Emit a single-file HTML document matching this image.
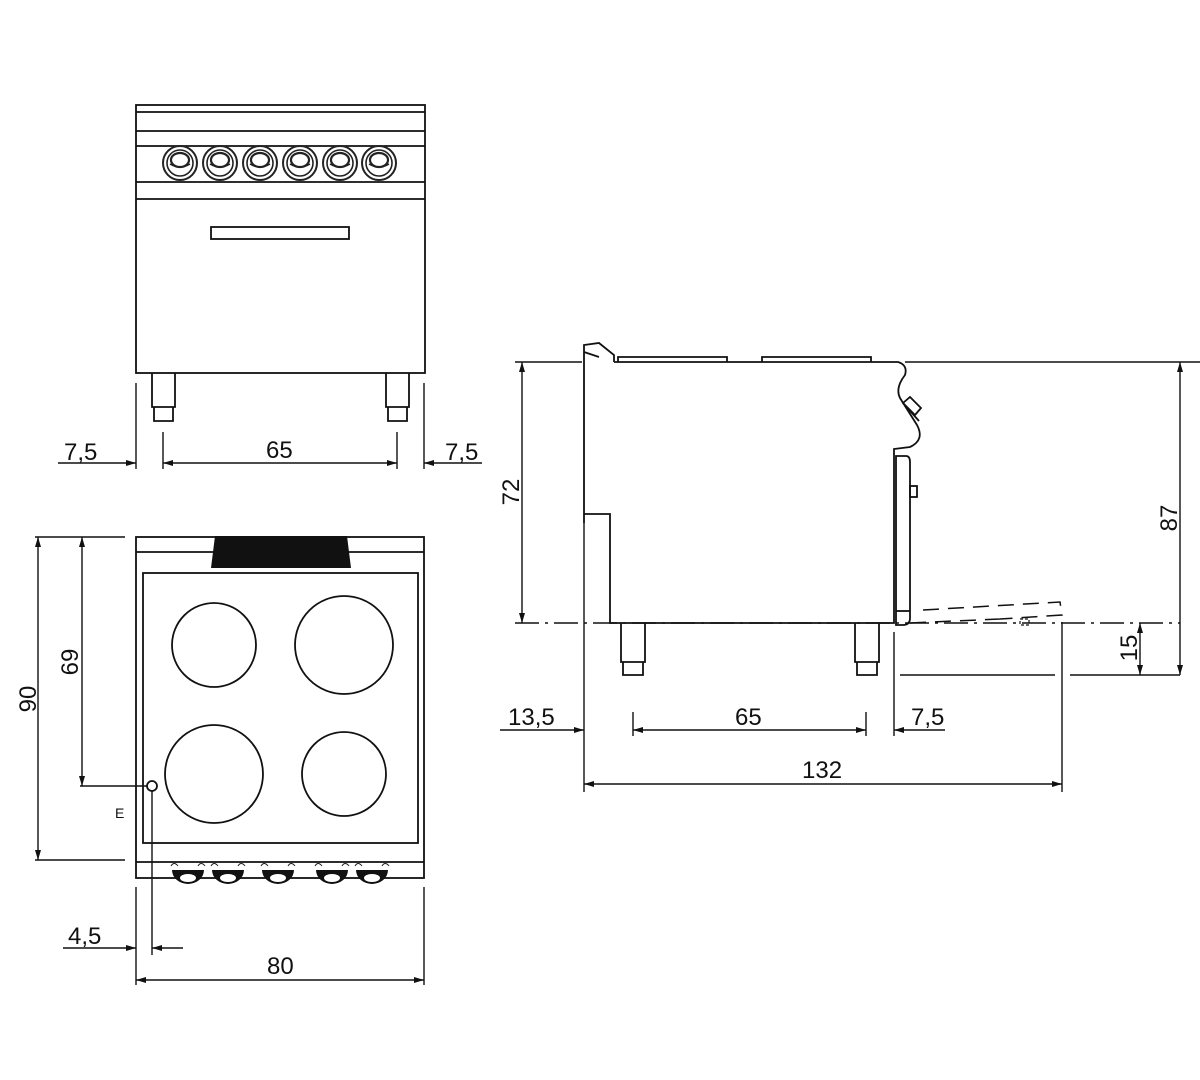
<!DOCTYPE html>
<html><head><meta charset="utf-8"><style>
html,body{margin:0;padding:0;background:#fff;}
svg{display:block}
text{font-family:"Liberation Sans",Arial,sans-serif;font-size:24px;fill:#111;}
</style></head><body>
<svg width="1200" height="1080" viewBox="0 0 1200 1080" xmlns="http://www.w3.org/2000/svg">
<defs>
<marker id="a" viewBox="0 0 10 6" refX="10" refY="3" markerWidth="14" markerHeight="6" orient="auto-start-reverse" markerUnits="userSpaceOnUse"><path d="M0,0 L10,3 L0,6z" fill="#111"/></marker>
<g id="knob"><circle r="17" fill="#fff" stroke="#222" stroke-width="2"/><circle r="13" fill="none" stroke="#222" stroke-width="1.6"/><ellipse cx="0" cy="-3" rx="9" ry="7" fill="#fff" stroke="#222" stroke-width="2.2"/><path d="M-10,1 Q0,7 10,1" fill="none" stroke="#222" stroke-width="1.6"/></g>
<g id="bk"><path d="M-16,0 A16,14 0 0 0 16,0 Z" fill="#111"/><ellipse cx="0" cy="8" rx="8" ry="4" fill="#fff"/><path d="M-17,-4 q3,-5 7,0 M10,-4 q3,-5 7,0" stroke="#222" fill="none" stroke-width="1"/></g>
</defs>
<g fill="none" stroke="#111" stroke-width="1.8">
<!-- FRONT VIEW -->
<rect x="136" y="105" width="289" height="268"/>
<line x1="136" y1="112" x2="425" y2="112"/>
<line x1="136" y1="131" x2="425" y2="131"/>
<line x1="136" y1="146" x2="425" y2="146"/>
<line x1="136" y1="182" x2="425" y2="182"/>
<line x1="136" y1="199" x2="425" y2="199"/>
<rect x="211" y="227" width="138" height="12"/>
<path d="M152,373 V407 H175 V373 M154,407 V421 H173 V407"/>
<path d="M386,373 V407 H409 V373 M388,407 V421 H407 V407"/>
</g>
<g>
<use href="#knob" x="180" y="163"/><use href="#knob" x="220" y="163"/><use href="#knob" x="260" y="163"/>
<use href="#knob" x="300" y="163"/><use href="#knob" x="340" y="163"/><use href="#knob" x="379" y="163"/>
</g>
<g stroke="#111" stroke-width="1.4" fill="none">
<line x1="136" y1="383" x2="136" y2="469"/>
<line x1="163" y1="432" x2="163" y2="469"/>
<line x1="397" y1="432" x2="397" y2="469"/>
<line x1="424" y1="383" x2="424" y2="469"/>
<line x1="58" y1="463" x2="136" y2="463" marker-end="url(#a)"/>
<line x1="163" y1="463" x2="397" y2="463" marker-start="url(#a)" marker-end="url(#a)"/>
<line x1="482" y1="463" x2="424" y2="463" marker-end="url(#a)"/>
</g>
<text x="64" y="460">7,5</text>
<text x="266" y="458">65</text>
<text x="445" y="460">7,5</text>

<!-- TOP VIEW -->
<g fill="none" stroke="#111" stroke-width="1.8">
<rect x="136" y="537" width="288" height="341"/>
<line x1="136" y1="552" x2="424" y2="552"/>
<rect x="143" y="573" width="275" height="270"/>
<line x1="136" y1="862" x2="424" y2="862"/>
<circle cx="214" cy="645" r="42"/>
<circle cx="344" cy="645" r="49"/>
<circle cx="214" cy="774" r="49"/>
<circle cx="344" cy="774" r="42"/>
<circle cx="152" cy="786" r="5"/>
</g>
<path d="M215,536 H347 L351,568 H211 Z" fill="#111"/>
<g><use href="#bk" x="188" y="870"/><use href="#bk" x="228" y="870"/><use href="#bk" x="278" y="870"/><use href="#bk" x="332" y="870"/><use href="#bk" x="372" y="870"/></g>
<g stroke="#111" stroke-width="1.4" fill="none">
<line x1="35" y1="537" x2="125" y2="537"/>
<line x1="35" y1="860" x2="125" y2="860"/>
<line x1="80" y1="786" x2="147" y2="786"/>
<line x1="38" y1="537" x2="38" y2="860" marker-start="url(#a)" marker-end="url(#a)"/>
<line x1="82" y1="537" x2="82" y2="786" marker-start="url(#a)" marker-end="url(#a)"/>
<line x1="152" y1="791" x2="152" y2="955"/>
<line x1="136" y1="887" x2="136" y2="985"/>
<line x1="424" y1="887" x2="424" y2="985"/>
<line x1="63" y1="948" x2="136" y2="948" marker-end="url(#a)"/>
<line x1="183" y1="948" x2="152" y2="948" marker-end="url(#a)"/>
<line x1="136" y1="980" x2="424" y2="980" marker-start="url(#a)" marker-end="url(#a)"/>
</g>
<text x="68" y="944">4,5</text>
<text x="267" y="974">80</text>
<text x="115" y="818" style="font-size:14px">E</text>
<text transform="translate(36,699) rotate(-90)" text-anchor="middle">90</text>
<text transform="translate(78,662) rotate(-90)" text-anchor="middle">69</text>

<!-- SIDE VIEW -->
<g fill="none" stroke="#111" stroke-width="1.8">
<path d="M584,523 V345 L599,343 L614,355 V362 M584,352 L599,357 M614,362 H898 Q908,365 905,375 Q895,388 900,398 L917,425 Q925,440 910,447 L894,449 V623 H610 V514 H584"/>
<path d="M618,362 V357 H727 V362 M762,362 V357 H871 V362"/>
<path d="M896,456 H906 Q910,456 910,462 V618 Q910,625 903,625 H896 Z"/>
<line x1="896" y1="611" x2="910" y2="611"/>
<rect x="910" y="486" width="7" height="11"/>
<path d="M903,403 L910,397 L921,408 L915,415 Z M903,403 L919,421"/>
<path d="M621,623 V662 H645 V623 M623,662 V675 H643 V662"/>
<path d="M855,623 V662 H879 V623 M857,662 V675 H877 V662"/>
<path d="M923,610 L1060,602 L1062,615 L1000,619 M910,623 L1000,619" stroke-dasharray="16,9" stroke-width="1.5"/>
<rect x="1020" y="619" width="9" height="6" stroke-dasharray="3,2" stroke-width="1.2"/>
</g>
<g stroke="#111" stroke-width="1.4" fill="none">
<line x1="515" y1="623" x2="1180" y2="623" stroke-dasharray="24,6,3,6"/>
<line x1="515" y1="362" x2="582" y2="362"/>
<line x1="905" y1="362" x2="1200" y2="362"/>
<line x1="900" y1="675" x2="1055" y2="675"/>
<line x1="1070" y1="675" x2="1180" y2="675"/>
<line x1="522" y1="362" x2="522" y2="623" marker-start="url(#a)" marker-end="url(#a)"/>
<line x1="1180" y1="362" x2="1180" y2="675" marker-start="url(#a)" marker-end="url(#a)"/>
<line x1="1140" y1="623" x2="1140" y2="675" marker-start="url(#a)" marker-end="url(#a)"/>
<line x1="584" y1="523" x2="584" y2="792"/>
<line x1="1062" y1="622" x2="1062" y2="792"/>
<line x1="894" y1="632" x2="894" y2="736"/>
<line x1="633" y1="712" x2="633" y2="736"/>
<line x1="866" y1="712" x2="866" y2="736"/>
<line x1="500" y1="730" x2="584" y2="730" marker-end="url(#a)"/>
<line x1="633" y1="730" x2="866" y2="730" marker-start="url(#a)" marker-end="url(#a)"/>
<line x1="945" y1="730" x2="894" y2="730" marker-end="url(#a)"/>
<line x1="584" y1="784" x2="1062" y2="784" marker-start="url(#a)" marker-end="url(#a)"/>
</g>
<text x="508" y="725">13,5</text>
<text x="735" y="725">65</text>
<text x="911" y="725">7,5</text>
<text x="802" y="778">132</text>
<text transform="translate(519,492) rotate(-90)" text-anchor="middle">72</text>
<text transform="translate(1177,518) rotate(-90)" text-anchor="middle">87</text>
<text transform="translate(1137,648) rotate(-90)" text-anchor="middle">15</text>
</svg>
</body></html>
